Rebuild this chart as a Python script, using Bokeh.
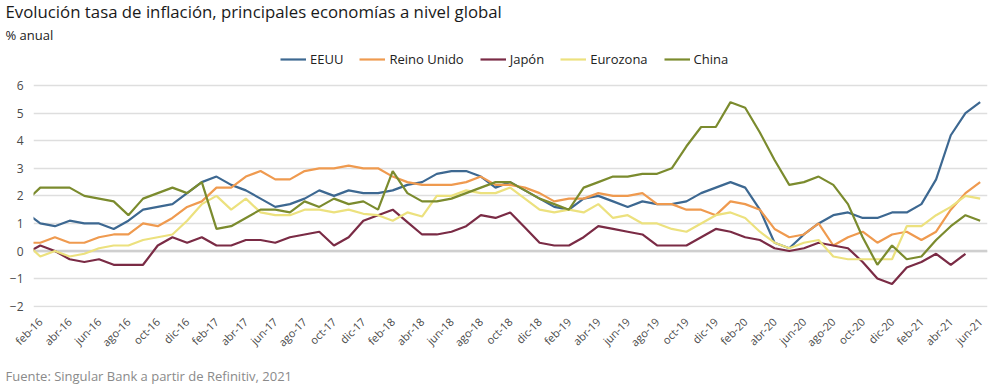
import math
from bokeh.plotting import figure
from bokeh.models import ColumnDataSource, Legend, LegendItem, FixedTicker, Range1d, Span, Title
from bokeh.embed import file_html
from bokeh.resources import INLINE

# Monthly categories, ene-16 .. jun-21 (ene-16 is partly outside the visible axis)
fechas = [
    "ene-16", "feb-16", "mar-16", "abr-16", "may-16", "jun-16", "jul-16", "ago-16", "sep-16", "oct-16", "nov-16", "dic-16",
    "ene-17", "feb-17", "mar-17", "abr-17", "may-17", "jun-17", "jul-17", "ago-17", "sep-17", "oct-17", "nov-17", "dic-17",
    "ene-18", "feb-18", "mar-18", "abr-18", "may-18", "jun-18", "jul-18", "ago-18", "sep-18", "oct-18", "nov-18", "dic-18",
    "ene-19", "feb-19", "mar-19", "abr-19", "may-19", "jun-19", "jul-19", "ago-19", "sep-19", "oct-19", "nov-19", "dic-19",
    "ene-20", "feb-20", "mar-20", "abr-20", "may-20", "jun-20", "jul-20", "ago-20", "sep-20", "oct-20", "nov-20", "dic-20",
    "ene-21", "feb-21", "mar-21", "abr-21", "may-21", "jun-21",
]

eeuu = [
    1.4, 1.0, 0.9, 1.1, 1.0, 1.0, 0.8, 1.1, 1.5, 1.6, 1.7, 2.1,
    2.5, 2.7, 2.4, 2.2, 1.9, 1.6, 1.7, 1.9, 2.2, 2.0, 2.2, 2.1,
    2.1, 2.2, 2.4, 2.5, 2.8, 2.9, 2.9, 2.7, 2.3, 2.5, 2.2, 1.9,
    1.6, 1.5, 1.9, 2.0, 1.8, 1.6, 1.8, 1.7, 1.7, 1.8, 2.1, 2.3,
    2.5, 2.3, 1.5, 0.3, 0.1, 0.6, 1.0, 1.3, 1.4, 1.2, 1.2, 1.4,
    1.4, 1.7, 2.6, 4.2, 5.0, 5.4,
]
reino_unido = [
    0.3, 0.3, 0.5, 0.3, 0.3, 0.5, 0.6, 0.6, 1.0, 0.9, 1.2, 1.6,
    1.8, 2.3, 2.3, 2.7, 2.9, 2.6, 2.6, 2.9, 3.0, 3.0, 3.1, 3.0,
    3.0, 2.7, 2.5, 2.4, 2.4, 2.4, 2.5, 2.7, 2.4, 2.4, 2.3, 2.1,
    1.8, 1.9, 1.9, 2.1, 2.0, 2.0, 2.1, 1.7, 1.7, 1.5, 1.5, 1.3,
    1.8, 1.7, 1.5, 0.8, 0.5, 0.6, 1.0, 0.2, 0.5, 0.7, 0.3, 0.6,
    0.7, 0.4, 0.7, 1.5, 2.1, 2.5,
]
japon = [
    -0.1, 0.2, 0.0, -0.3, -0.4, -0.3, -0.5, -0.5, -0.5, 0.2, 0.5, 0.3,
    0.5, 0.2, 0.2, 0.4, 0.4, 0.3, 0.5, 0.6, 0.7, 0.2, 0.5, 1.1,
    1.3, 1.5, 1.05, 0.6, 0.6, 0.7, 0.9, 1.3, 1.2, 1.4, 0.85, 0.3,
    0.2, 0.2, 0.5, 0.9, 0.8, 0.7, 0.6, 0.2, 0.2, 0.2, 0.5, 0.8,
    0.7, 0.5, 0.4, 0.1, 0.0, 0.1, 0.3, 0.2, 0.1, -0.4, -1.0, -1.2,
    -0.6, -0.4, -0.1, -0.5, -0.1, float("nan"),
]
eurozona = [
    0.3, -0.2, 0.0, -0.2, -0.1, 0.1, 0.2, 0.2, 0.4, 0.5, 0.6, 1.1,
    1.7, 2.0, 1.5, 1.9, 1.4, 1.3, 1.3, 1.5, 1.5, 1.4, 1.5, 1.35,
    1.3, 1.1, 1.4, 1.25, 2.0, 2.0, 2.2, 2.1, 2.1, 2.3, 1.9, 1.5,
    1.4, 1.5, 1.4, 1.7, 1.2, 1.3, 1.0, 1.0, 0.8, 0.7, 1.0, 1.3,
    1.4, 1.2, 0.7, 0.3, 0.1, 0.3, 0.4, -0.2, -0.3, -0.3, -0.3, -0.3,
    0.9, 0.9, 1.3, 1.6, 2.0, 1.9,
]
china = [
    1.8, 2.3, 2.3, 2.3, 2.0, 1.9, 1.8, 1.3, 1.9, 2.1, 2.3, 2.1,
    2.5, 0.8, 0.9, 1.2, 1.5, 1.5, 1.4, 1.8, 1.6, 1.9, 1.7, 1.8,
    1.5, 2.9, 2.1, 1.8, 1.8, 1.9, 2.1, 2.3, 2.5, 2.5, 2.2, 1.9,
    1.7, 1.5, 2.3, 2.5, 2.7, 2.7, 2.8, 2.8, 3.0, 3.8, 4.5, 4.5,
    5.4, 5.2, 4.3, 3.3, 2.4, 2.5, 2.7, 2.4, 1.7, 0.5, -0.5, 0.2,
    -0.3, -0.2, 0.4, 0.9, 1.3, 1.1,
]

series = ["EEUU", "Reino Unido", "Japón", "Eurozona", "China"]
colores = ["#3d6891", "#ef9a4f", "#7a2b45", "#ece17e", "#7b8b2e"]
y_ticks = [-2, -1, 0, 1, 2, 3, 4, 5, 6]

FONT = "Open Sans"

pos = list(range(-1, len(fechas) - 1))  # feb-16 -> 0
src = ColumnDataSource(dict(x=pos, EEUU=eeuu, RU=reino_unido, JP=japon, EZ=eurozona, CN=china))
cols = ["EEUU", "RU", "JP", "EZ", "CN"]

W, H = 1005, 391
TOP, BOTTOM, LEFT, RIGHT = 45, 81, 33, 18
frame_h = H - TOP - BOTTOM
px_per_unit = 28.09
y0 = -2.05
y1 = y0 + frame_h / px_per_unit

p = figure(width=W, height=H, output_backend="svg", toolbar_location=None,
           x_range=Range1d(-0.46, 64.5), y_range=Range1d(y0, y1),
           min_border_left=LEFT, min_border_right=RIGHT, min_border_top=TOP, min_border_bottom=BOTTOM)
p.outline_line_color = None
p.background_fill_color = "white"
p.border_fill_color = "white"

# axes
tick_pos = [i for i in pos if i >= 0 and i % 2 == 0]
p.xaxis.ticker = FixedTicker(ticks=tick_pos)
p.xaxis.major_label_overrides = {i: fechas[i + 1] for i in tick_pos}
p.xaxis.major_label_orientation = math.pi / 4
p.xaxis.axis_line_color = None
p.xaxis.major_tick_line_color = None
p.xaxis.minor_tick_line_color = None
p.xaxis.major_tick_out = 0
p.xaxis.major_tick_in = 0
p.xaxis.major_label_text_font = FONT
p.xaxis.major_label_text_font_size = "11px"
p.xaxis.major_label_text_color = "#4a4a4a"
p.xaxis.major_label_standoff = 12

p.yaxis.ticker = FixedTicker(ticks=y_ticks)
p.yaxis.axis_line_color = None
p.yaxis.major_tick_line_color = None
p.yaxis.minor_tick_line_color = None
p.yaxis.major_tick_out = 0
p.yaxis.major_tick_in = 0
p.yaxis.major_label_text_font = FONT
p.yaxis.major_label_text_font_size = "12px"
p.yaxis.major_label_text_color = "#4a4a4a"
p.yaxis.major_label_standoff = 10

p.xgrid.grid_line_color = None
p.ygrid.grid_line_color = "#dedede"
p.ygrid.grid_line_width = 1.5
p.add_layout(Span(location=0, dimension="width", line_color="#cfcfcf", line_width=2.5, level="underlay"))

renderers = []
for col, name, c in zip(cols, series, colores):
    r = p.line("x", col, source=src, line_color=c, line_width=2.2)
    renderers.append((name, r))

legend = Legend(items=[LegendItem(label=n, renderers=[r]) for n, r in renderers],
                orientation="horizontal", location=(247, frame_h - 58 + TOP - 13),
                glyph_width=26, glyph_height=16, label_height=16, label_standoff=4, spacing=16,
                padding=0, margin=0, border_line_color=None, background_fill_alpha=0,
                label_text_font=FONT, label_text_font_size="13px", label_text_color="#222222")
p.add_layout(legend, "center")

subtitle = Title(text="% anual", align="left", offset=-28, standoff=8,
                 text_font=FONT, text_font_size="13px", text_font_style="normal", text_color="#1a1a1a")
title = Title(text="Evolución tasa de inflación, principales economías a nivel global",
              align="left", offset=-28, standoff=-6,
              text_font=FONT, text_font_size="16.8px", text_font_style="normal", text_color="#1a1a1a")
p.add_layout(subtitle, "above")
p.add_layout(title, "above")

fuente = Title(text="Fuente: Singular Bank a partir de  Refinitiv, 2021", align="left", offset=-28,
               standoff=14, text_font=FONT, text_font_size="13px", text_font_style="normal",
               text_color="#8a8a8a")
p.add_layout(fuente, "below")

open("out.html", "w").write(file_html(p, INLINE))
